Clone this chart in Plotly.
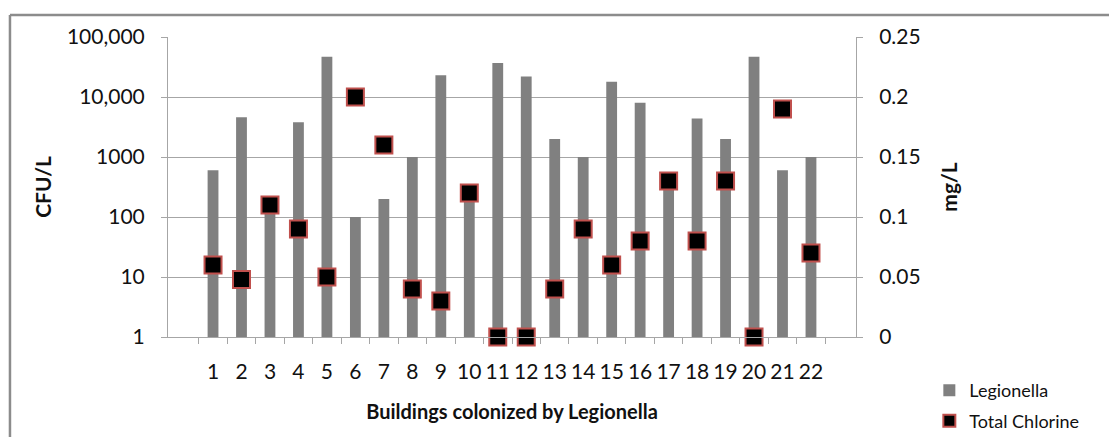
import plotly.graph_objects as go

buildings = [str(i) for i in range(1, 23)]
legionella = [600, 4600, 150, 3800, 47000, 100, 200, 1000, 23000, 180, 37000,
              22000, 2000, 1000, 18000, 8000, 500, 4400, 2000, 47000, 600, 1000]
chlorine = [0.06, 0.048, 0.11, 0.09, 0.05, 0.2, 0.16, 0.04, 0.03, 0.12, 0.0,
            0.0, 0.04, 0.09, 0.06, 0.08, 0.13, 0.08, 0.13, 0.0, 0.19, 0.07]
left_ticks = [1, 10, 100, 1000, 10000, 100000]
left_ticktext = ["1", "10", "100", "1000", "10,000", "100,000"]
right_ticks = [0, 0.05, 0.1, 0.15, 0.2, 0.25]
right_ticktext = ["0", "0.05", "0.1", "0.15", "0.2", "0.25"]

FONT = "Lato"
GRID = "#a6a6a6"

fig = go.Figure()
fig.add_trace(go.Bar(
    x=buildings, y=legionella, name="Legionella",
    marker=dict(color="#808080", line=dict(width=0)),
    legendgroup="a", yaxis="y",
))
fig.add_trace(go.Scatter(
    x=buildings, y=chlorine, name="Total Chlorine", mode="markers",
    marker=dict(symbol="square", size=17, color="black",
                line=dict(color="#c0504d", width=2)),
    legendgroup="b", yaxis="y2", cliponaxis=False,
))

fig.update_layout(
    width=1117, height=437,
    margin=dict(l=160, r=269, t=29, b=108, autoexpand=False),
    paper_bgcolor="white", plot_bgcolor="white",
    font=dict(family=FONT, color="#111111"),
    bargap=0.62,
    xaxis=dict(
        type="category", showgrid=False, showline=True, linecolor=GRID,
        linewidth=1, ticks="outside", tickson="boundaries", ticklen=6,
        tickcolor=GRID, tickfont=dict(size=21, family=FONT),
        tickangle=0, automargin=False,
        ticklabelstandoff=16,
        title=dict(text="<b>Buildings colonized by Legionella</b>",
                   font=dict(size=20, family=FONT), standoff=22),
    ),
    yaxis=dict(
        type="log", range=[0, 5], tickvals=left_ticks, ticktext=left_ticktext,
        showgrid=True, gridcolor=GRID, gridwidth=1,
        showline=True, linecolor=GRID, linewidth=1,
        ticks="outside", ticklen=6, tickcolor=GRID, automargin=False,
        tickfont=dict(size=21, family=FONT), ticklabelstandoff=12,
        title=dict(text="<b>CFU/L</b>", font=dict(size=21, family=FONT),
                   standoff=9),
        zeroline=False,
    ),
    yaxis2=dict(
        overlaying="y", side="right", range=[0, 0.25],
        tickvals=right_ticks, ticktext=right_ticktext,
        showgrid=False, showline=True, linecolor=GRID, linewidth=1,
        ticks="outside", ticklen=6, tickcolor=GRID, automargin=False,
        tickfont=dict(size=21, family=FONT), ticklabelstandoff=12,
        title=dict(text="<b>mg/L</b>", font=dict(size=21, family=FONT),
                   standoff=22),
        zeroline=False,
    ),
    legend=dict(
        x=1.1066, y=-0.117, xanchor="left", yanchor="top",
        font=dict(size=18, family=FONT), tracegroupgap=4,
        itemsizing="constant",
        bgcolor="rgba(0,0,0,0)",
    ),
    shapes=[
        dict(type="line", xref="paper", yref="paper",
             x0=-0.2297, x1=1.42, y0=1.0733, y1=1.0733,
             line=dict(color="#8c8c8c", width=2.5)),
        dict(type="line", xref="paper", yref="paper",
             x0=-0.2297, x1=-0.2297, y0=1.0733, y1=-0.38,
             line=dict(color="#8c8c8c", width=2.5)),
    ],
)

fig.write_html("out.html")
